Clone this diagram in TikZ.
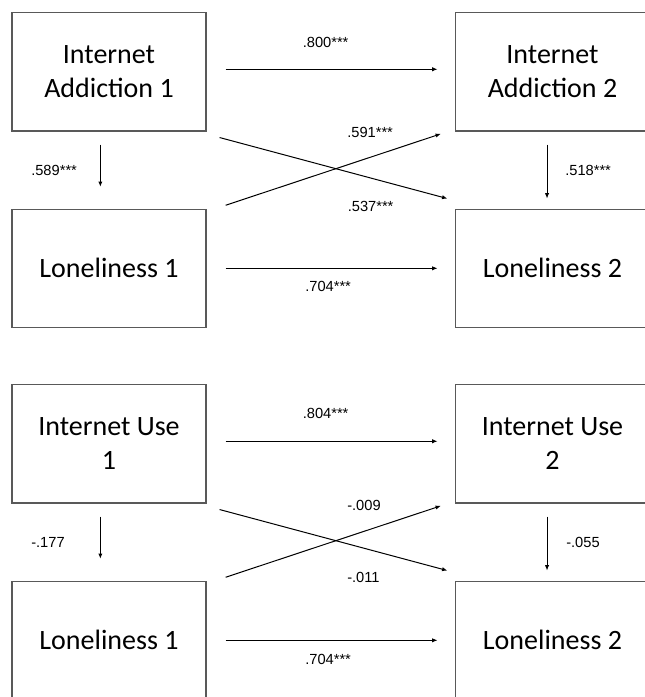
\documentclass[tikz,border=0pt]{standalone}
\usepackage{fontspec}
\setmainfont{Carlito}
\newfontfamily\coeffont{Liberation Sans}
\usepackage{xcolor}
\usetikzlibrary{arrows.meta}

\definecolor{boxgray}{RGB}{89,89,89}

\tikzset{
  varbox/.style={draw=boxgray, line width=0.9pt, minimum width=145.5pt, minimum height=88.7pt,
    align=center, inner sep=0pt, font=\fontsize{21}{25.5}\selectfont},
  effect/.style={draw=black, line width=0.75pt, -{Latex[length=4pt,width=3.2pt]}},
  coef/.style={anchor=west, inner sep=0pt, font=\coeffont\fontsize{11}{13}\selectfont},
}

\begin{document}
\begin{tikzpicture}[x=0.75pt,y=0.75pt,yscale=-1,xscale=1]
\path[use as bounding box] (0,0) rectangle (645,697);
\clip (0,0) rectangle (645,697);

% Internet addiction and loneliness, two waves
\node[varbox] (ia1) at (109,71.8) {Internet\\Addiction 1};
\node[varbox] (ia2) at (552.5,71.8) {Internet\\Addiction 2};
\node[varbox] (lna1) at (109,268.3) {Loneliness 1};
\node[varbox] (lna2) at (552.5,268.3) {Loneliness 2};

% paths
\draw[effect, shorten <=14.25pt, shorten >=13pt] ([yshift=-1.9pt]ia1.east) -- ([yshift=-1.9pt]ia2.west);
\draw[effect, shorten <=14.25pt, shorten >=13pt] (lna1.east) -- (lna2.west);
\draw[effect, shorten <=9.75pt, shorten >=16.3pt] ([xshift=-6.5pt]ia1.south) -- ([xshift=-6.5pt]lna1.north);
\draw[effect, shorten <=9.75pt, shorten >=7.5pt] ([xshift=-4.1pt]ia2.south) -- ([xshift=-4.1pt]lna2.north);
\draw[effect] ([shift={(13,6)}]ia1.south east) -- ([shift={(-7.5,-10)}]lna2.north west);
\draw[effect] ([shift={(19,-3.3)}]lna1.north east) -- ([shift={(-14,2.3)}]ia2.south west);

% Text Node
\node[coef] (ca1) at (302.5,42) {.800***};
\node[coef] (ca2) at (31,170.5) {.589***};
\node[coef] (ca3) at (565,170) {.518***};
\node[coef] (ca4) at (347,132.3) {.591***};
\node[coef] (ca5) at (347.5,206) {.537***};
\node[coef] (ca6) at (305,286) {.704***};

% Internet use and loneliness, two waves
\begin{scope}[shift={(0,372)}]
\node[varbox] (iu1) at (109,71.8) {Internet Use\\1};
\node[varbox] (iu2) at (552.5,71.8) {Internet Use\\2};
\node[varbox] (lnb1) at (109,268.3) {Loneliness 1};
\node[varbox] (lnb2) at (552.5,268.3) {Loneliness 2};

% paths
\draw[effect, shorten <=14.25pt, shorten >=13pt] ([yshift=-1.9pt]iu1.east) -- ([yshift=-1.9pt]iu2.west);
\draw[effect, shorten <=14.25pt, shorten >=13pt] (lnb1.east) -- (lnb2.west);
\draw[effect, shorten <=9.75pt, shorten >=16.3pt] ([xshift=-6.5pt]iu1.south) -- ([xshift=-6.5pt]lnb1.north);
\draw[effect, shorten <=9.75pt, shorten >=7.5pt] ([xshift=-4.1pt]iu2.south) -- ([xshift=-4.1pt]lnb2.north);
\draw[effect] ([shift={(13,6)}]iu1.south east) -- ([shift={(-7.5,-10)}]lnb2.north west);
\draw[effect] ([shift={(19,-3.3)}]lnb1.north east) -- ([shift={(-14,2.3)}]iu2.south west);

% Text Node
\node[coef] (cb1) at (302.5,41) {.804***};
\node[coef] (cb2) at (31,170.5) {-.177};
\node[coef] (cb3) at (566,170) {-.055};
\node[coef] (cb4) at (347,133) {-.009};
\node[coef] (cb5) at (347,205.7) {-.011};
\node[coef] (cb6) at (305,287.3) {.704***};
\end{scope}

\end{tikzpicture}
\end{document}
